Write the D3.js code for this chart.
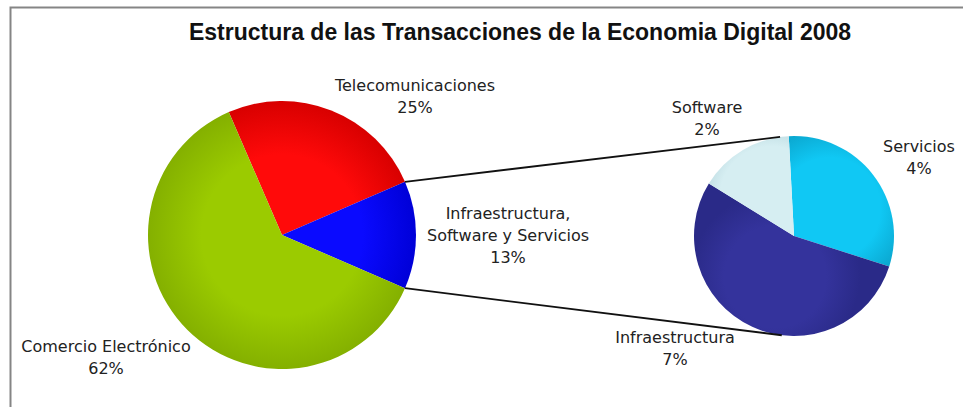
<!DOCTYPE html>
<html>
<head>
<meta charset="utf-8">
<script src="https://cdn.jsdelivr.net/npm/d3@7"></script>
<style>
  html, body { margin: 0; padding: 0; background: #fff; }
  svg { display: block; }
  .lbl { font-family: "DejaVu Sans", "Liberation Sans", sans-serif; font-size: 16px; fill: #222; }
  .title { font-family: "Liberation Sans", Arial, sans-serif; font-weight: bold; font-size: 23px; fill: #111; }
</style>
</head>
<body>
<script>
// Main pie: share of total digital-economy transactions, 2008 (%)
const mainCategories = ["Telecomunicaciones", "Infraestructura, Software y Servicios", "Comercio Electrónico"];
const mainValues = [25, 13, 62];
const mainLabelLines = [["Telecomunicaciones", "25%"], ["Infraestructura,", "Software y Servicios", "13%"], ["Comercio Electrónico", "62%"]];

// Secondary pie: breakdown of the 13% slice (%)
const detailCategories = ["Servicios", "Infraestructura", "Software"];
const detailValues = [4, 7, 2];
const detailLabelLines = [["Servicios", "4%"], ["Infraestructura", "7%"], ["Software", "2%"]];

const titleText = "Estructura de las Transacciones de la Economia Digital 2008";

const W = 963, H = 407;
const svg = d3.select("body").append("svg").attr("width", W).attr("height", H);
const defs = svg.append("defs");

// frame (only top and left edges fall inside the view)
svg.append("path")
  .attr("d", d3.line()([[10.5, H], [10.5, 7.5], [W, 7.5]]))
  .attr("fill", "none").attr("stroke", "#858585").attr("stroke-width", 2);

svg.append("text").attr("class", "title")
  .attr("x", 520).attr("y", 40).attr("text-anchor", "middle")
  .text(titleText);

// geometry
const main = { cx: 282, cy: 235, r: 134 };
const detail = { cx: 794, cy: 236, r: 100 };

function radial(id, cx, cy, r, inner, outer) {
  const g = defs.append("radialGradient").attr("id", id)
    .attr("gradientUnits", "userSpaceOnUse")
    .attr("cx", cx).attr("cy", cy).attr("r", r);
  g.append("stop").attr("offset", "0%").attr("stop-color", inner);
  g.append("stop").attr("offset", "60%").attr("stop-color", inner);
  g.append("stop").attr("offset", "100%").attr("stop-color", outer);
  return `url(#${id})`;
}

const mainColors = d3.scaleOrdinal().domain(mainCategories)
  .range([["#ff0a0a", "#d80000"], ["#0a0aff", "#0000d8"], ["#9bcb00", "#84b000"]]);
const detailColors = d3.scaleOrdinal().domain(detailCategories)
  .range([["#10c8f4", "#0aa4cc"], ["#34339c", "#2a2a88"], ["#d6eef2", "#a9ccd4"]]);

// the exploded slice (index 1) is centred on 3 o'clock
const total = d3.sum(mainValues);
const share1 = mainValues[1] / total * 2 * Math.PI;
const share0 = mainValues[0] / total * 2 * Math.PI;
const mainStart = Math.PI / 2 - share1 / 2 - share0;

const mainPie = d3.pie().sort(null).startAngle(mainStart).endAngle(mainStart + 2 * Math.PI);
const mainArcs = mainPie(mainValues);
const arcMain = d3.arc().innerRadius(0).outerRadius(main.r);

const gMain = svg.append("g").attr("transform", `translate(${main.cx},${main.cy})`);
gMain.selectAll("path").data(mainArcs).join("path")
  .attr("d", arcMain)
  .attr("fill", (d, i) => {
    const c = mainColors(mainCategories[i]);
    return radial("gm" + i, 0, 0, main.r, c[0], c[1]);
  });

// secondary pie
const detailStart = -3 * Math.PI / 180;
const detailPie = d3.pie().sort(null).startAngle(detailStart).endAngle(detailStart + 2 * Math.PI);
const detailArcs = detailPie(detailValues);
const arcDetail = d3.arc().innerRadius(0).outerRadius(detail.r);
const gDetail = svg.append("g").attr("transform", `translate(${detail.cx},${detail.cy})`);
gDetail.selectAll("path").data(detailArcs).join("path")
  .attr("d", arcDetail)
  .attr("fill", (d, i) => {
    const c = detailColors(detailCategories[i]);
    const mid = (d.startAngle + d.endAngle) / 2;
    const off = detail.r * 0.45;
    return radial("gd" + i, off * Math.sin(mid), -off * Math.cos(mid), detail.r * 0.85, c[0], c[1]);
  });

// connector lines from the exploded slice to the secondary pie
const polar = (o, r, a) => [o.cx + r * Math.sin(a), o.cy - r * Math.cos(a)];
const expl = mainArcs[1];
const rad = Math.PI / 180;
const connectors = [
  [polar(main, main.r, expl.startAngle), polar(detail, detail.r, -8 * rad)],
  [polar(main, main.r, expl.endAngle), polar(detail, detail.r, 187 * rad)]
];
svg.selectAll("path.conn").data(connectors).join("path")
  .attr("class", "conn")
  .attr("d", d => d3.line()(d))
  .attr("stroke", "#111").attr("stroke-width", 1.8).attr("fill", "none");

// labels
const lineGap = 22;
const mainLabelPos = [[415, 91], [508, 219], [106, 352]];
const detailLabelPos = [[919, 151.5], [675, 343], [707, 112.5]];

function drawLabel(lines, pos) {
  const t = svg.append("text").attr("class", "lbl").attr("text-anchor", "middle");
  lines.forEach((s, k) => t.append("tspan").attr("x", pos[0]).attr("y", pos[1] + k * lineGap).text(s));
}
mainLabelLines.forEach((l, i) => drawLabel(l, mainLabelPos[i]));
detailLabelLines.forEach((l, i) => drawLabel(l, detailLabelPos[i]));
</script>
</body>
</html>
